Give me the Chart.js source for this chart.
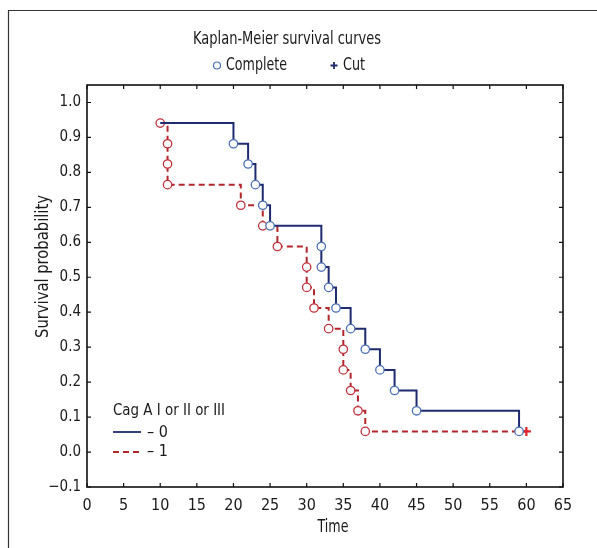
<!DOCTYPE html>
<html><head><meta charset="utf-8">
<script src="https://cdn.jsdelivr.net/npm/chart.js@4"></script>
<style>html,body{margin:0;padding:0;background:#fff}#c{display:block}</style>
</head><body>
<canvas id="c" width="597" height="548"></canvas>
<script>
// ---- data ----
const xTicks = [0,5,10,15,20,25,30,35,40,45,50,55,60,65];
const yTicks = [-0.1,0.0,0.1,0.2,0.3,0.4,0.5,0.6,0.7,0.8,0.9,1.0];
const yTickLabels = ['\u22120.1','0.0','0.1','0.2','0.3','0.4','0.5','0.6','0.7','0.8','0.9','1.0'];
// group 0 (CagA = 0): event times and survival after each event
const group0Times = [10,20,22,23,24,25,32,32,33,34,36,38,40,42,45,59];
const group0Surv  = [0.941,0.882,0.824,0.765,0.706,0.647,0.588,0.529,0.471,0.412,0.353,0.294,0.235,0.176,0.118,0.059];
// group 1 (CagA = 1): last point is a censored (Cut) observation
const group1Times = [10,11,11,11,21,24,26,30,30,31,33,35,35,36,37,38,60];
const group1Surv  = [0.941,0.882,0.824,0.765,0.706,0.647,0.588,0.529,0.471,0.412,0.353,0.294,0.235,0.176,0.118,0.059,0.059];
const group1Censored = [false,false,false,false,false,false,false,false,false,false,false,false,false,false,false,false,true];

const FONT = "'Liberation Sans Narrow','DejaVu Sans Condensed','Roboto Condensed',sans-serif";
const BLUE_LINE = '#1e2b6e', BLUE_PT = '#4a6fb5', RED_LINE = '#b3262b', RED_PT = '#c0303a', RED_CUT = '#e0202a';

const pts = (ts, vs) => ts.map((t,i)=>({x:t,y:vs[i]}));

// draw text squeezed horizontally to the reference's narrow face
function fitText(ctx, text, x, y, w, align){
  const m = ctx.measureText(text).width;
  const s = Math.min(1, w / m);
  ctx.save();
  ctx.translate(x, y); ctx.scale(s, 1);
  ctx.textAlign = align || 'left';
  ctx.fillText(text, 0, 0);
  ctx.restore();
}

const decor = {
  id:'decor',
  afterDraw(chart){
    const ctx = chart.ctx, a = chart.chartArea;
    const xs = chart.scales.x, ys = chart.scales.y;
    ctx.save();
    // outer frame (top & left visible)
    ctx.strokeStyle = '#333'; ctx.lineWidth = 1.2;
    ctx.beginPath(); ctx.moveTo(8.5,597); ctx.lineTo(8.5,10.5); ctx.lineTo(597,10.5); ctx.stroke();
    // plot border
    ctx.strokeStyle = '#111'; ctx.lineWidth = 1.6;
    ctx.strokeRect(a.left, a.top, a.right-a.left, a.bottom-a.top);
    // inward ticks
    ctx.lineWidth = 1.2;
    ctx.beginPath();
    xTicks.forEach(v=>{ const px = xs.getPixelForValue(v);
      ctx.moveTo(px,a.bottom); ctx.lineTo(px,a.bottom-4);
      ctx.moveTo(px,a.top); ctx.lineTo(px,a.top+4); });
    yTicks.forEach(v=>{ const py = ys.getPixelForValue(v);
      ctx.moveTo(a.left,py); ctx.lineTo(a.left+4,py);
      ctx.moveTo(a.right,py); ctx.lineTo(a.right-4,py); });
    ctx.stroke();
    // titles
    ctx.fillStyle = '#1a1a1a';
    ctx.textBaseline = 'alphabetic';
    ctx.font = '17px ' + FONT;
    fitText(ctx, 'Kaplan-Meier survival curves', 287, 44, 188, 'center');
    fitText(ctx, 'Time', 333, 532, 31, 'center');
    ctx.save(); ctx.translate(48, 266.5); ctx.rotate(-Math.PI/2);
    fitText(ctx, 'Survival probability', 0, 0, 143, 'center'); ctx.restore();
    // top legend
    ctx.lineWidth = 1.2; ctx.strokeStyle = BLUE_PT;
    ctx.beginPath(); ctx.arc(217, 65.5, 3.5, 0, Math.PI*2); ctx.stroke();
    fitText(ctx, 'Complete', 226, 70, 61, 'left');
    ctx.strokeStyle = BLUE_LINE; ctx.lineWidth = 1.8;
    ctx.beginPath(); ctx.moveTo(330.5,65.5); ctx.lineTo(337.5,65.5); ctx.moveTo(334,62); ctx.lineTo(334,69); ctx.stroke();
    fitText(ctx, 'Cut', 343, 70, 22, 'left');
    // inner legend
    ctx.font = '16px ' + FONT;
    fitText(ctx, 'Cag A I or II or III', 113, 415, 112, 'left');
    ctx.strokeStyle = BLUE_LINE; ctx.lineWidth = 1.8;
    ctx.beginPath(); ctx.moveTo(113,432); ctx.lineTo(141,432); ctx.stroke();
    fitText(ctx, '\u2013 0', 147, 437, 23, 'left');
    ctx.strokeStyle = RED_LINE; ctx.setLineDash([6,4]);
    ctx.beginPath(); ctx.moveTo(113,452); ctx.lineTo(141,452); ctx.stroke();
    ctx.setLineDash([]);
    fitText(ctx, '\u2013 1', 147, 456, 23, 'left');
    ctx.restore();
  }
};

new Chart(document.getElementById('c'), {
  type:'line',
  data:{ datasets:[
    { label:'0', data: pts(group0Times, group0Surv), stepped:true,
      borderColor:BLUE_LINE, borderWidth:2, fill:false,
      pointRadius: group0Times.map((t,i)=> i===0 ? 0 : 4.2),
      pointStyle:'circle', pointBackgroundColor:'#fff', pointBorderColor:BLUE_PT, pointBorderWidth:1.3 },
    { label:'1', data: pts(group1Times, group1Surv), stepped:true,
      borderColor:RED_LINE, borderWidth:2, borderDash:[6,4], fill:false,
      pointRadius: group1Censored.map(c=> c ? 4.5 : 4.2),
      pointStyle: group1Censored.map(c=> c ? 'cross' : 'circle'),
      pointBackgroundColor:'#fff',
      pointBorderColor: group1Censored.map(c=> c ? RED_CUT : RED_PT),
      pointBorderWidth: group1Censored.map(c=> c ? 2.2 : 1.3) }
  ]},
  options:{
    responsive:false, devicePixelRatio:1, animation:false,
    layout:{ padding:{ left:0, right:34, top:85, bottom:0 } },
    plugins:{ legend:{display:false}, tooltip:{enabled:false} },
    scales:{
      x:{ type:'linear', min:0, max:65,
        afterBuildTicks(s){ s.ticks = xTicks.map(v=>({value:v})); },
        afterFit(s){ s.height = 61; },
        grid:{ display:false, drawTicks:false }, border:{display:false},
        ticks:{ padding:9, color:'#1a1a1a', font:{ family:FONT, size:16 }, maxRotation:0, autoSkip:false,
          callback:(v)=> String(v) } },
      y:{ type:'linear', min:-0.1, max:1.05,
        afterBuildTicks(s){ s.ticks = yTicks.map(v=>({value:v})); },
        afterFit(s){ s.width = 87; },
        grid:{ display:false, drawTicks:false }, border:{display:false},
        ticks:{ padding:6, color:'#1a1a1a', font:{ family:FONT, size:15 }, autoSkip:false,
          callback:(v,i)=> yTickLabels[i] } }
    }
  },
  plugins:[decor]
});
</script>
</body></html>
